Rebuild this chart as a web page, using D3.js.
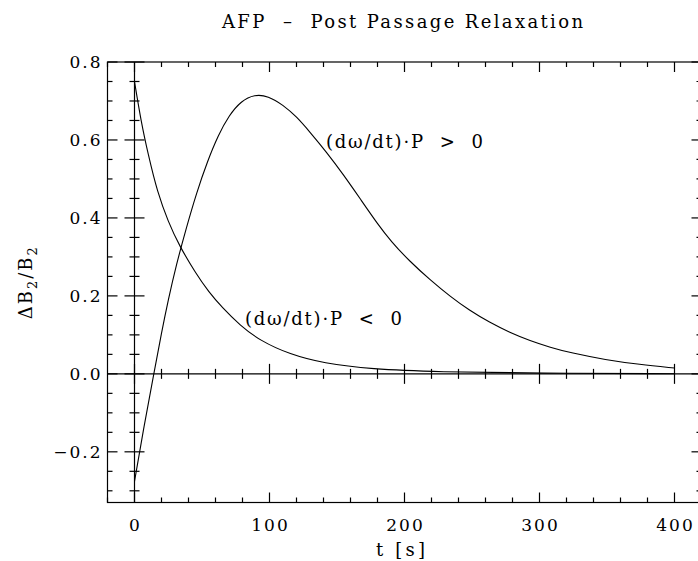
<!DOCTYPE html>
<html>
<head>
<meta charset="utf-8">
<script src="https://cdn.jsdelivr.net/npm/d3@7"></script>
<style>
  body { margin: 0; background: #fff; }
  text { font-family: "DejaVu Serif", serif; fill: #000; white-space: pre; }
</style>
</head>
<body>
<div id="chart"></div>
<script>
// valeurs
const tNeg = [0, 5, 10, 17, 25, 33, 45, 55, 65, 78, 93, 115, 140, 175, 225, 300, 400];
const yNeg = [0.75, 0.645, 0.565, 0.465, 0.39, 0.33, 0.26, 0.21, 0.17, 0.125, 0.085, 0.05, 0.027, 0.012, 0.005, 0.0015, 0.0003];

const tPos = [0, 7, 14.3, 20, 25, 31, 38, 46, 54, 62, 70, 79, 89, 99, 110, 120, 130, 142, 155, 168, 180, 190, 204, 219, 234, 248, 263, 278, 293, 308, 323, 349, 374, 400];
const yPos = [-0.276, -0.135, 0, 0.105, 0.19, 0.28, 0.37, 0.465, 0.545, 0.612, 0.663, 0.70, 0.717, 0.713, 0.69, 0.66, 0.62, 0.57, 0.51, 0.445, 0.385, 0.34, 0.288, 0.241, 0.198, 0.163, 0.132, 0.106, 0.085, 0.068, 0.054, 0.036, 0.024, 0.015];

const xTicks = [0, 100, 200, 300, 400];
const xTickLabels = ["0", "100", "200", "300", "400"];
const yTicks = [-0.2, 0, 0.2, 0.4, 0.6, 0.8];
const yTickLabels = ["\u22120.2", "0.0", "0.2", "0.4", "0.6", "0.8"];
const xMinor = d3.range(-20, 421, 20);
const yMinor = d3.range(-6, 17).map(d => d * 0.05);

const W = 698, H = 561;
const mLeft = 107.5, mRight = 701.5, mTop = 62, mBottom = 502.5;

const svg = d3.select("#chart").append("svg")
  .attr("width", W).attr("height", H);

const x = d3.scaleLinear().domain([-20, 420]).range([mLeft, mRight]);
const y = d3.scaleLinear().domain([-0.33, 0.8]).range([mBottom, mTop]);

const ax = svg.append("g").attr("stroke", "#000").attr("stroke-width", 1.2);

// cadre
ax.append("rect")
  .attr("x", mLeft).attr("y", mTop)
  .attr("width", mRight - mLeft).attr("height", mBottom - mTop)
  .attr("fill", "none");

// axes passant par l'origine
ax.append("line").attr("x1", mLeft).attr("x2", mRight).attr("y1", y(0)).attr("y2", y(0));
ax.append("line").attr("x1", x(0)).attr("x2", x(0)).attr("y1", mTop).attr("y2", mBottom);

function isMajorX(d) { return xTicks.includes(d); }
function isMajorY(d) { return yTicks.some(v => Math.abs(v - d) < 1e-6); }

// ticks en x : bas, haut, axe zéro
xMinor.forEach(d => {
  const L = isMajorX(d) ? 10 : 5;
  ax.append("line").attr("x1", x(d)).attr("x2", x(d)).attr("y1", mBottom).attr("y2", mBottom - L);
  ax.append("line").attr("x1", x(d)).attr("x2", x(d)).attr("y1", mTop).attr("y2", mTop + L);
  if (d >= 0 && d <= 400)
    ax.append("line").attr("x1", x(d)).attr("x2", x(d)).attr("y1", y(0) - L).attr("y2", y(0) + L);
});

// ticks en y : gauche, droite, axe zéro
yMinor.forEach(d => {
  const L = isMajorY(d) ? 10 : 5;
  ax.append("line").attr("x1", mLeft).attr("x2", mLeft + L).attr("y1", y(d)).attr("y2", y(d));
  ax.append("line").attr("x1", mRight).attr("x2", mRight - L).attr("y1", y(d)).attr("y2", y(d));
  ax.append("line").attr("x1", x(0) - L).attr("x2", x(0) + L).attr("y1", y(d)).attr("y2", y(d));
});

// labels des ticks
svg.selectAll(".xl").data(xTicks).enter().append("text")
  .attr("x", d => x(d) + 1).attr("y", mBottom + 28)
  .attr("text-anchor", "middle").attr("font-size", 17)
  .attr("letter-spacing", 2)
  .text((d, i) => xTickLabels[i]);

svg.selectAll(".yl").data(yTicks).enter().append("text")
  .attr("x", mLeft - 5).attr("y", d => y(d) + 6)
  .attr("text-anchor", "end").attr("font-size", 17)
  .attr("letter-spacing", 2)
  .text((d, i) => yTickLabels[i]);

// courbes
const line = d3.line()
  .x(d => x(d[0])).y(d => y(d[1]))
  .curve(d3.curveBasis);

svg.append("path")
  .datum(tNeg.map((t, i) => [t, yNeg[i]]))
  .attr("d", line).attr("fill", "none").attr("stroke", "#000").attr("stroke-width", 1.1);

svg.append("path")
  .datum(tPos.map((t, i) => [t, yPos[i]]))
  .attr("d", line).attr("fill", "none").attr("stroke", "#000").attr("stroke-width", 1.1);

// annotations
svg.append("text").attr("x", 326).attr("y", 148).attr("font-size", 18)
  .attr("textLength", 157).attr("lengthAdjust", "spacing")
  .text("(d\u03c9/dt)\u00b7P  >  0");
svg.append("text").attr("x", 245).attr("y", 325).attr("font-size", 18)
  .attr("textLength", 157).attr("lengthAdjust", "spacing")
  .text("(d\u03c9/dt)\u00b7P  <  0");

// titre
svg.append("text").attr("x", 222).attr("y", 28).attr("font-size", 18)
  .attr("textLength", 361).attr("lengthAdjust", "spacing")
  .text("AFP  \u2013  Post Passage Relaxation");

// titres des axes
svg.append("text").attr("x", 376).attr("y", 556).attr("font-size", 18)
  .attr("textLength", 49).attr("lengthAdjust", "spacing")
  .text("t [s]");

const yl = svg.append("text")
  .attr("transform", "translate(32," + ((mTop + mBottom) / 2) + ") rotate(-90)")
  .attr("text-anchor", "middle").attr("font-size", 18)
  .attr("letter-spacing", 2);
yl.append("tspan").text("\u0394B");
yl.append("tspan").attr("font-size", 13).attr("dy", 5).text("2");
yl.append("tspan").attr("dy", -5).text("/B");
yl.append("tspan").attr("font-size", 13).attr("dy", 5).text("2");
</script>
</body>
</html>
